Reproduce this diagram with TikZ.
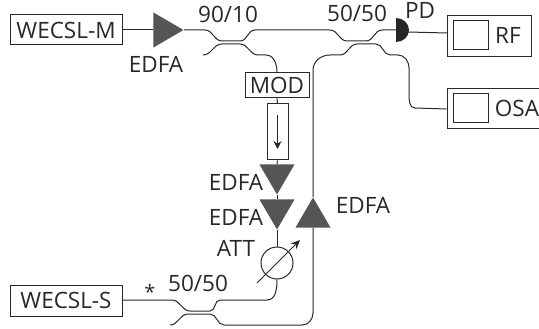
\documentclass[tikz,border=0pt]{standalone}
\usepackage{fontspec}
\setmainfont{Open Sans}
\usetikzlibrary{arrows.meta, shapes.geometric}
\definecolor{inkdark}{RGB}{40, 40, 40}
\definecolor{ampgray}{RGB}{85, 85, 85}

\begin{document}
\begin{tikzpicture}[
                x=1pt, y=-1pt,
                fibre/.style={draw=inkdark, line width=1pt},
                labbox/.style={draw=inkdark, line width=1pt, inner sep=0pt,
                    fill=white, text=inkdark, font=\fontsize{22.5}{24}\selectfont},
                lbl/.style={inner sep=0pt, text=inkdark, font=\fontsize{22.5}{24}\selectfont},
                amp/.style={isosceles triangle, isosceles triangle stretches,
                    fill=ampgray, inner sep=0pt, minimum width=35pt, minimum height=30pt}
            ]
            \useasboundingbox (0, 0) rectangle (539, 329);

            % Master laser
            \node[labbox, minimum width=112pt, minimum height=30pt] (wecslm) at (66, 30) {WECSL-M};
            \node[amp, anchor=apex, shape border rotate=0] (edfam) at (184, 30) {};
            \draw[fibre] (wecslm.east) -- (edfam.lower side);
            \node[lbl] (edfamlbl) at (156, 64) {EDFA};
            \node[lbl] (ratiotop) at (228, 14) {90/10};

            % Modulator branch
            \node[labbox, minimum width=64pt, minimum height=25pt] (mod) at (277, 85.5) {MOD};
            \node[draw=inkdark, line width=1pt, fill=white, inner sep=0pt,
                minimum width=21pt, minimum height=56pt] (iso) at (277.5, 132) {};
            \coordinate (isotop) at (277.5, 115);
            \coordinate (isoend) at (277.5, 149);
            \draw[fibre, -{Stealth[length=8pt, width=8pt]}] (isotop) -- (isoend);
            \node[amp, anchor=apex, shape border rotate=-90] (edfaa) at (277, 195) {};
            \node[amp, anchor=apex, shape border rotate=-90] (edfab) at (277, 230) {};
            \node[draw=inkdark, line width=1pt, circle, inner sep=0pt,
                minimum size=32pt] (att) at (277, 263) {};
            \draw[fibre] (mod.south) -- (iso.north);
            \draw[fibre] (iso.south) -- (edfaa.lower side);
            \draw[fibre] (edfaa.apex) -- (edfab.lower side);
            \draw[fibre] (edfab.apex) -- (att.north);
            \coordinate (attfrom) at (257, 283);
            \coordinate (attto) at (300, 240);
            \draw[fibre, -{Stealth[length=9pt, width=8pt]}] (attfrom) -- (attto);
            \node[lbl] (edfaalbl) at (236, 182) {EDFA};
            \node[lbl] (edfablbl) at (236, 217) {EDFA};
            \node[lbl] (attlbl) at (236, 248) {ATT};

            % Return amplifier
            \node[amp, anchor=apex, shape border rotate=90] (edfac) at (313, 197) {};
            \node[lbl] (edfaclbl) at (363, 205) {EDFA};

            % Receivers
            \coordinate (pd) at (396, 30);
            \coordinate (pdout) at (408, 32);
            \coordinate (rfport) at (447, 33);
            \fill[black!85] (396, 18) arc[start angle=-90, end angle=90, x radius=13, y radius=12] -- cycle;
            \node[lbl] (pdlbl) at (420, 10) {PD};
            \node[labbox, minimum width=84pt, minimum height=41pt] (rf) at (489, 36.5) {};
            \node[draw=inkdark, line width=1pt, minimum width=35pt, minimum height=29pt, inner sep=0pt] (rfin) at (470.5, 35.5) {};
            \node[lbl] (rflbl) at (508, 35) {RF};
            \node[labbox, minimum width=94pt, minimum height=40pt] (osa) at (494, 109) {};
            \node[draw=inkdark, line width=1pt, minimum width=35pt, minimum height=29pt, inner sep=0pt] (osain) at (470.5, 108.5) {};
            \node[lbl] (osalbl) at (517, 108) {OSA};
            \draw[fibre] (pdout) -- (rfport);

            % Upper couplers
            \draw[fibre] (edfam.apex) -- ++(21, 0) to[out=0, in=180] ++(17, 11) -- ++(18, 0)
                to[out=0, in=180] ++(15, -11) -- ++(75, 0) to[out=0, in=180] ++(17, 11)
                -- ++(19, 0) to[out=0, in=180] ++(16, -11) -- (pd);
            \coordinate (stubtop) at (203, 55);
            \draw[fibre] (stubtop) to[out=0, in=180] ++(19, -11) -- ++(18, 0)
                to[out=0, in=180] ++(18, 11) -- ++(8, 0) to[out=0, in=90] (mod.north);
            \draw[fibre] (edfac.apex) -- ++(0, -127) to[out=90, in=180] ++(17, -15) -- ++(10, 0)
                to[out=0, in=180] ++(17, -11) -- ++(19, 0) to[out=0, in=180] ++(14, 11) -- ++(8, 0)
                to[out=0, in=90] ++(11, 13) -- ++(0, 27) to[out=-90, in=180] (415, 108) -- (osa.west);

            % Slave laser
            \node[labbox, minimum width=112pt, minimum height=31pt] (wecsls) at (66, 300.5) {WECSL-S};
            \node[lbl] (ratiobot) at (198, 283) {50/50};
            \node[lbl, font=\fontsize{20}{22}\selectfont] (star) at (150, 292) {*};
            \node[lbl] (ratiomid) at (357, 13) {50/50};

            % Lower coupler
            \coordinate (slaveport) at (122, 300);
            \draw[fibre] (slaveport) -- ++(50, 0) to[out=0, in=180] ++(18, 11) -- ++(20, 0)
                to[out=0, in=180] ++(10, -11) -- ++(47, 0) to[out=0, in=-90] (att.south);
            \coordinate (stubbot) at (170, 325);
            \draw[fibre] (stubbot) to[out=0, in=180] ++(18, -11) -- ++(22, 0)
                to[out=0, in=180] ++(14, 11) -- ++(78, 0) to[out=0, in=-90] ++(11, -12)
                -- (edfac.lower side);
        \end{tikzpicture}
\end{document}
